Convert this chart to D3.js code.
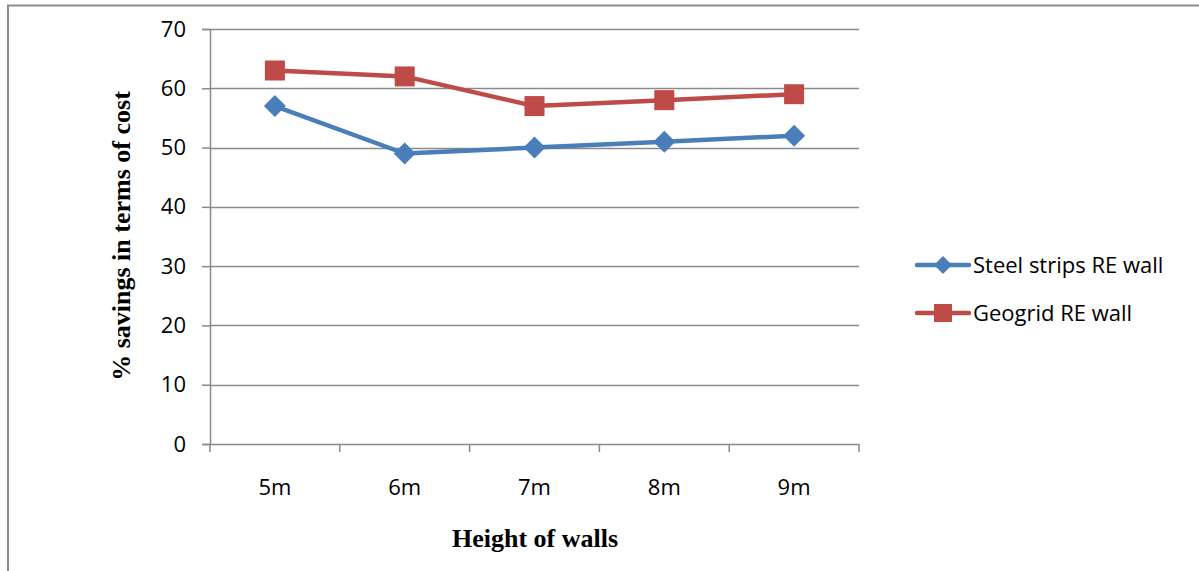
<!DOCTYPE html>
<html><head><meta charset="utf-8">
<script src="https://cdn.jsdelivr.net/npm/d3@7"></script>
<style>body{margin:0;background:#fff}svg{display:block}</style>
</head><body>
<script>
const categories = ["5m","6m","7m","8m","9m"];
const steelValues = [57,49,50,51,52];
const geogridValues = [63,62,57,58,59];
const yTicks = [0,10,20,30,40,50,60,70];
const seriesNames = ["Steel strips RE wall","Geogrid RE wall"];

const W=1199,H=571;
const svg=d3.select("body").append("svg").attr("width",W).attr("height",H);
svg.append("rect").attr("width",W).attr("height",H).attr("fill","#fff");
// outer frame (left and top visible)
svg.append("line").attr("x1",8).attr("x2",8).attr("y1",5).attr("y2",H).attr("stroke","#8c8c8c").attr("stroke-width",2);
svg.append("line").attr("x1",7).attr("x2",W).attr("y1",5.5).attr("y2",5.5).attr("stroke","#8c8c8c").attr("stroke-width",2);

const L=210,R=859,T=29,B=444;
const x=d3.scaleBand().domain(categories).range([L,R]);
const y=d3.scaleLinear().domain([0,70]).range([B,T]);
const tickFont="'Open Sans', 'Noto Sans', sans-serif";
const fs=22;

// gridlines
svg.append("g").selectAll("line").data(yTicks.filter(d=>d>0)).join("line")
 .attr("x1",L).attr("x2",R).attr("y1",d=>Math.round(y(d))+0.5).attr("y2",d=>Math.round(y(d))+0.5)
 .attr("stroke","#8a8a8a").attr("stroke-width",1.5);

// y axis
const yAxis=svg.append("g").attr("transform",`translate(${L},0)`)
 .call(d3.axisLeft(y).tickValues(yTicks).tickSize(8).tickPadding(16));
yAxis.select(".domain").attr("stroke","#8a8a8a").attr("stroke-width",1.5);
yAxis.selectAll(".tick line").attr("stroke","#8a8a8a").attr("stroke-width",1.5);
yAxis.selectAll("text").attr("font-family",tickFont).attr("font-size",fs).attr("fill","#000");

// x axis with boundary ticks
const xAxis=svg.append("g").attr("transform",`translate(0,${B})`);
xAxis.append("line").attr("x1",L).attr("x2",R).attr("y1",0.5).attr("y2",0.5).attr("stroke","#8a8a8a").attr("stroke-width",1.5);
const bounds=categories.map(c=>x(c)).concat([R]);
xAxis.selectAll("line.b").data(bounds).join("line").attr("class","b")
 .attr("x1",d=>d).attr("x2",d=>d).attr("y1",0).attr("y2",8).attr("stroke","#8a8a8a").attr("stroke-width",1.5);
xAxis.selectAll("text").data(categories).join("text")
 .attr("x",d=>x(d)+x.bandwidth()/2).attr("y",51).attr("text-anchor","middle")
 .attr("font-family",tickFont).attr("font-size",fs).attr("fill","#000").text(d=>d);

// axis titles
svg.append("text").attr("x",535).attr("y",547).attr("text-anchor","middle")
 .attr("font-family","'Liberation Serif','Times New Roman',serif").attr("font-weight","bold").attr("font-size",26).text("Height of walls");
svg.append("text").attr("transform","translate(130,236) rotate(-90)").attr("text-anchor","middle")
 .attr("font-family","'Liberation Serif','Times New Roman',serif").attr("font-weight","bold").attr("font-size",26).text("% savings in terms of cost");

const cx=c=>x(c)+x.bandwidth()/2;
const line=d3.line().x((d,i)=>cx(categories[i])).y(d=>y(d));
const colors=["#4a7ebb","#be4b48"];
const data=[steelValues,geogridValues];

data.forEach((vals,k)=>{
  svg.append("path").datum(vals).attr("d",line).attr("fill","none").attr("stroke",colors[k]).attr("stroke-width",4.5).attr("stroke-linejoin","round");
});
// markers
svg.append("g").selectAll("path").data(steelValues).join("path")
 .attr("transform",(d,i)=>`translate(${cx(categories[i])},${y(d)})`)
 .attr("d","M0,-11L11,0L0,11L-11,0Z").attr("fill",colors[0]);
svg.append("g").selectAll("rect").data(geogridValues).join("rect")
 .attr("x",(d,i)=>cx(categories[i])-10).attr("y",d=>y(d)-10).attr("width",20).attr("height",20).attr("fill",colors[1]);

// legend
const lg=svg.append("g");
seriesNames.forEach((n,k)=>{
  const yy=k===0?265:313;
  lg.append("line").attr("x1",917).attr("x2",969).attr("y1",yy).attr("y2",yy).attr("stroke",colors[k]).attr("stroke-width",4.5).attr("stroke-linecap","round");
  if(k===0) lg.append("path").attr("transform",`translate(943,${yy})`).attr("d","M0,-9L9,0L0,9L-9,0Z").attr("fill",colors[0]);
  else lg.append("rect").attr("x",934).attr("y",yy-9).attr("width",18).attr("height",18).attr("fill",colors[1]);
  lg.append("text").attr("x",973).attr("y",yy+8).attr("font-family",tickFont).attr("font-size",fs).attr("fill","#000").text(n);
});
</script>
</body></html>
